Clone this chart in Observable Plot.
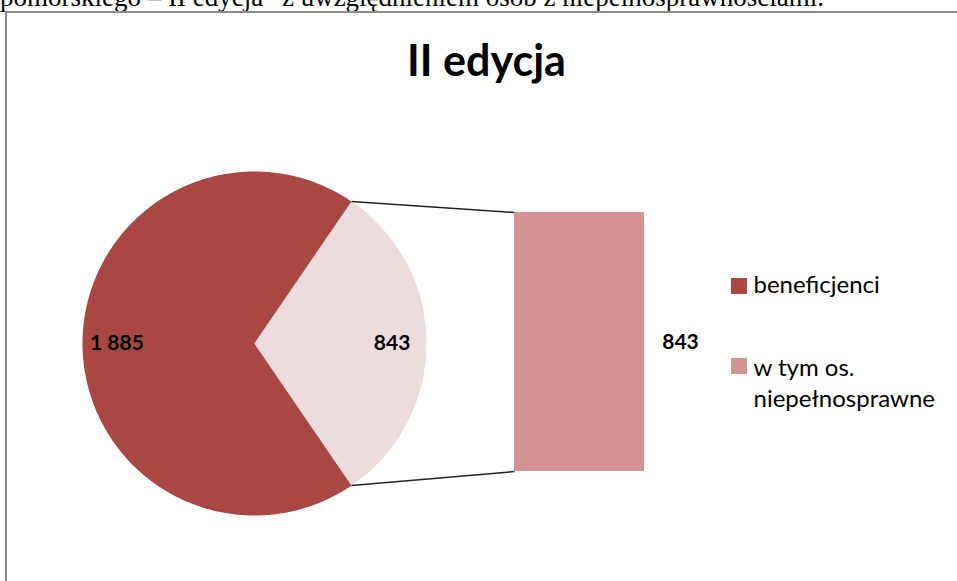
<!DOCTYPE html>
<html>
<head>
<meta charset="utf-8">
<script src="https://cdn.jsdelivr.net/npm/d3@7"></script>
<script src="https://cdn.jsdelivr.net/npm/@observablehq/plot@0.6"></script>
<style>
  html, body { margin: 0; padding: 0; background: #fff; }
  #wrap { position: relative; width: 957px; height: 581px; overflow: hidden; }
  #doctext { position: absolute; left: 0; top: -16px; font-family: "Liberation Serif", "Times New Roman", serif; font-size: 27px; line-height: 26px; white-space: nowrap; color: #000; }
  #frame { position: absolute; left: 5px; top: 11px; width: 1000px; height: 600px; border-left: 2px solid #8c8c8c; border-top: 2px solid #8c8c8c; }
  #chart { position: absolute; left: 0; top: 0; }
</style>
</head>
<body>
<div id="wrap">
  <div id="doctext">pomorskiego – II edycja” z uwzględnieniem osób z niepełnosprawnościami.</div>
  <div id="frame"></div>
  <div id="chart"></div>
</div>
<script>
// ---- data ----
const title = "II edycja";
const categories = ["beneficjenci", "w tym os. niepełnosprawne"];
const values = [1885, 843];
const valueLabels = ["1 885", "843"];
const barCategories = ["w tym os. niepełnosprawne"];
const barValues = [843];
const barLabels = ["843"];
const legendLines = [["beneficjenci"], ["w tym os.", "niepełnosprawne"]];

// ---- styles / layout ----
const pieColors = ["#A94744", "#EDDCDC"];
const barColor = "#D39393";
const legendColors = ["#A94744", "#D39393"];
const W = 957, H = 581;
const cx = 254, cy = 343, R = 172;
const barX0 = 514, barX1 = 644, barTop = 212, barBottom = 471;
const font = "Lato, 'Open Sans', sans-serif";

const total = d3.sum(values);
const s = 2 * Math.PI * values[1] / total;
const pie = d3.pie().sort(null).value(d => d.value)
  .startAngle(Math.PI / 2 + s / 2).endAngle(Math.PI / 2 + s / 2 + 2 * Math.PI);
const arcs = pie(categories.map((c, i) => ({cat: c, value: values[i], label: valueLabels[i], color: pieColors[i]})));

const pt = (a, r) => ({x: cx + r * Math.sin(a), y: cy - r * Math.cos(a)});
const wedgePts = [];
arcs.forEach(a => {
  const n = Math.max(8, Math.ceil((a.endAngle - a.startAngle) / 0.01));
  wedgePts.push({key: a.data.cat, ...pt(0, 0)});
  for (let i = 0; i <= n; i++) {
    const ang = a.startAngle + (a.endAngle - a.startAngle) * i / n;
    wedgePts.push({key: a.data.cat, ...pt(ang, R)});
  }
  wedgePts.push({key: a.data.cat, ...pt(0, 0)});
});
const pieLabels = arcs.map(a => {
  const mid = (a.startAngle + a.endAngle) / 2;
  return {label: a.data.label, ...pt(mid, R * 0.8)};
});

// bar
const by = d3.scaleLinear([0, d3.sum(barValues)], [barBottom, barTop]);
const bars = barValues.map((v, i) => ({cat: barCategories[i], y1: by(0), y2: by(v), label: barLabels[i]}));

// connectors: from the edge of the small slice to bar corners
const small = arcs[1];
const connectors = [
  {k: "top", ...pt(small.startAngle, R), x2: barX0, y2: barTop},
  {k: "bottom", ...pt(small.endAngle, R), x2: barX0, y2: barBottom}
];

// legend
const legendRects = categories.map((c, i) => ({color: legendColors[i], x1: 731, x2: 747, y1: 278 + i * 80, y2: 294 + i * 80}));
const legendTexts = legendLines.flatMap((lines, i) => lines.map((t, j) => ({text: t, x: 753, y: 285 + i * 83 + j * 31})));

const chart = Plot.plot({
  width: W, height: H,
  margin: 0,
  x: {domain: [0, W], range: [0, W], axis: null},
  y: {domain: [0, H], range: [0, H], axis: null},
  marks: [
    Plot.line(wedgePts.filter(d => d.key === categories[0]), {x: "x", y: "y", fill: pieColors[0], stroke: "none"}),
    Plot.line(wedgePts.filter(d => d.key === categories[1]), {x: "x", y: "y", fill: pieColors[1], stroke: "none"}),
    Plot.link(connectors, {x1: "x", y1: "y", x2: "x2", y2: "y2", stroke: "#222", strokeWidth: 1.5}),
    Plot.rect(bars, {x1: barX0, x2: barX1, y1: "y1", y2: "y2", fill: barColor}),
    Plot.text(pieLabels, {x: "x", y: "y", text: "label", fontSize: 21, fontWeight: "bold", fontFamily: font, fill: "#000"}),
    Plot.text(bars, {x: barX1 + 36, y: d => (d.y1 + d.y2) / 2, text: "label", fontSize: 21, fontWeight: "bold", fontFamily: font, fill: "#000"}),
    Plot.text([title], {x: 486, y: 62, text: d => d, fontSize: 43, fontWeight: "bold", fontFamily: font, fill: "#000"}),
    Plot.rect(legendRects, {x1: "x1", x2: "x2", y1: "y1", y2: "y2", fill: "color"}),
    Plot.text(legendTexts, {x: "x", y: "y", text: "text", textAnchor: "start", fontSize: 24, fontFamily: font, fill: "#000"})
  ]
});
chart.style.background = "transparent";
document.getElementById("chart").appendChild(chart);
</script>
</body>
</html>
